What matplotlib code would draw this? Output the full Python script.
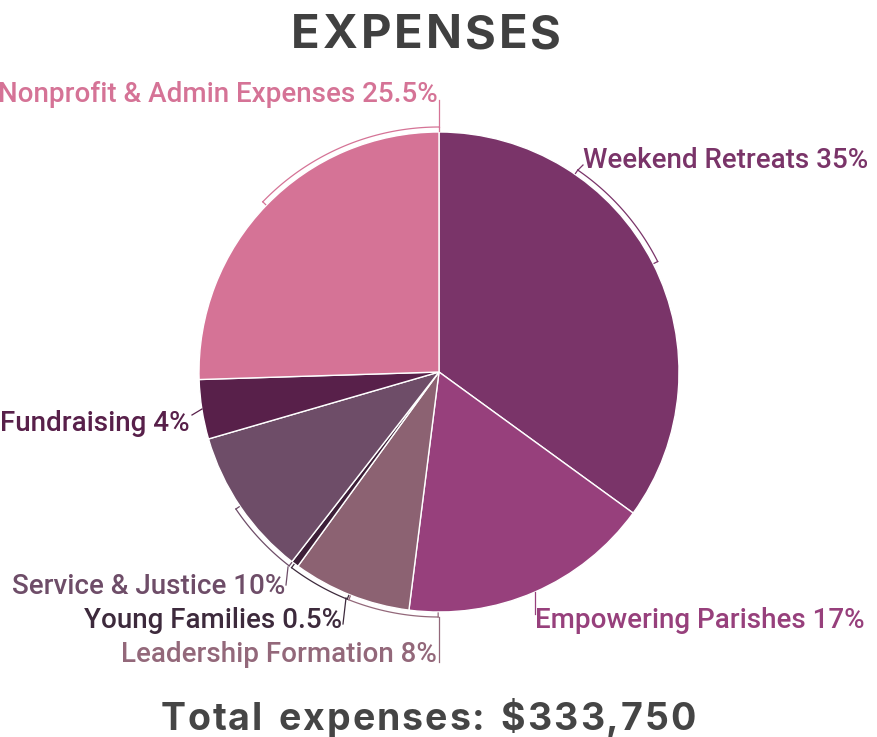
import numpy as np
import matplotlib
matplotlib.use("Agg")
import matplotlib.pyplot as plt

# dados do gráfico
categorias = ["Weekend Retreats", "Empowering Parishes", "Leadership Formation",
              "Young Families", "Service & Justice", "Fundraising",
              "Nonprofit & Admin Expenses"]
percentuais = [35, 17, 8, 0.5, 10, 4, 25.5]
rotulos = ["35%", "17%", "8%", "0.5%", "10%", "4%", "25.5%"]
cores = ["#7a3469", "#97407c", "#8c6272", "#3d1f38", "#6e4d68", "#58204a", "#d57396"]
cores_texto = ["#7a3469", "#97407c", "#93687a", "#3d2a3c", "#6e4d68", "#58204a", "#d57396"]
total = "$333,750"

W, H = 877, 737
cx, cy, R = 439, 372, 240   # centro e raio em pixels (y para baixo)


def py(y):
    return H - y


fig = plt.figure(figsize=(W/100, H/100), dpi=100)
ax = fig.add_axes([0, 0, 1, 1])

ax.pie(percentuais, colors=cores, startangle=90, counterclock=False,
       center=(cx, py(cy)), radius=R,
       wedgeprops=dict(edgecolor="white", linewidth=1.0))

ax.set_xlim(0, W)
ax.set_ylim(0, H)
ax.set_aspect("equal")
ax.axis("off")

# posição dos rótulos: (x, y, alinhamento)
pos = [(583, 160, "left"), (535, 621, "left"), (437, 654, "right"),
       (342, 621, "right"), (285, 587, "right"), (190, 423, "right"),
       (438, 94, "right")]

# colchetes: angulo inicial, final, e ligação até o texto
colchetes = [(55.5, 26.8, [(578, 170), (583, 165)]),
             (-66.4, -66.4, [(535, 592), (535, 614)]),
             (-111.6, -90.2, [(439, 617), (439, 662)]),
             (-127.0, -112.0, [(346, 598), (343, 624)]),
             (-146.0, -127.7, [(288, 567), (286, 585)]),
             (-171.0, -171.0, [(202, 409), (192, 415)]),
             (136.0, 90.0, [(439, 127), (439, 100)])]

rb = R + 5
for i in range(len(categorias)):
    x, y, ha = pos[i]
    ax.text(x, py(y), categorias[i] + " " + rotulos[i], ha=ha, va="center",
            fontsize=20, family="Roboto", fontweight="medium", color=cores_texto[i])

    a1, a2, lig = colchetes[i]
    if a1 != a2:
        t = np.radians(np.linspace(a1, a2, 60))
        ax.plot(cx + rb*np.cos(t), py(cy) + rb*np.sin(t), color=cores_texto[i], lw=0.9)
        for a in (a1, a2):
            ar = np.radians(a)
            ax.plot([cx + rb*np.cos(ar), cx + (R + 1)*np.cos(ar)],
                    [py(cy) + rb*np.sin(ar), py(cy) + (R + 1)*np.sin(ar)],
                    color=cores_texto[i], lw=0.9)
    ax.plot([lig[0][0], lig[1][0]], [py(lig[0][1]), py(lig[1][1])],
            color=cores_texto[i], lw=0.9)


def texto_espacado(xc, y, s, tam, esp, cor):
    # escreve letra a letra para imitar o espaçamento largo do original
    r = fig.canvas.get_renderer()
    larguras = []
    for ch in s:
        t = ax.text(0, 0, ch if ch != " " else "a", fontsize=tam, family="Inter",
                    fontweight="bold")
        bb = t.get_window_extent(renderer=r)
        larguras.append(bb.width if ch != " " else bb.width*0.55)
        t.remove()
    tot = sum(larguras) + esp*(len(s) - 1)
    x = xc - tot/2
    for ch, w in zip(s, larguras):
        if ch != " ":
            ax.text(x, py(y), ch, ha="left", va="baseline", fontsize=tam,
                    family="Inter", fontweight="bold", color=cor)
        x += w + esp


texto_espacado(426, 48, "EXPENSES", 34, 3, "#404040")
texto_espacado(428, 730, "Total expenses: " + total, 27, 2, "#454545")

plt.savefig("out.png", dpi=100)
